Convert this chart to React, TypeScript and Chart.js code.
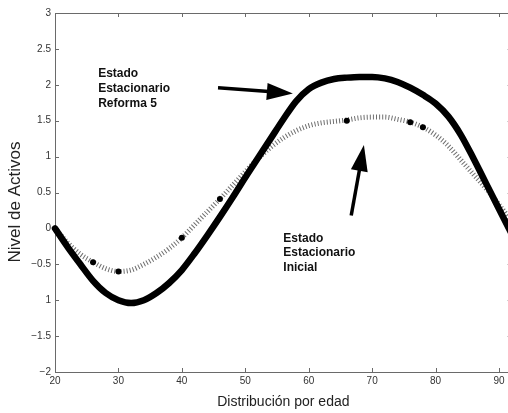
import React, { useEffect, useRef } from "react";
import { Chart, registerables } from "chart.js";

Chart.register(...registerables);

// ---- data ----
const ages = [20, 22, 24, 26, 28, 30, 32, 34, 36, 38, 40, 42, 44, 46, 48, 50, 52, 54, 56, 58, 60, 62, 64, 66, 68, 70, 72, 74, 76, 78, 80, 82, 84, 86, 88, 90, 92];
const reforma5 = [0, -0.26, -0.5, -0.73, -0.9, -1.0, -1.04, -1.0, -0.9, -0.76, -0.58, -0.35, -0.1, 0.16, 0.43, 0.71, 0.98, 1.25, 1.52, 1.77, 1.94, 2.03, 2.08, 2.1, 2.11, 2.11, 2.09, 2.04, 1.96, 1.86, 1.74, 1.56, 1.3, 0.97, 0.62, 0.27, -0.08];
const inicial = [0, -0.2, -0.36, -0.47, -0.56, -0.6, -0.58, -0.5, -0.4, -0.28, -0.13, 0.05, 0.23, 0.41, 0.6, 0.79, 0.97, 1.13, 1.26, 1.36, 1.43, 1.47, 1.49, 1.51, 1.54, 1.55, 1.55, 1.52, 1.48, 1.41, 1.3, 1.15, 0.95, 0.75, 0.55, 0.33, 0.1];
const markerAges = [26, 30, 40, 46, 66, 76, 78];
const markerValues = [-0.47, -0.6, -0.13, 0.41, 1.5, 1.48, 1.41];

const xTicks = [20, 30, 40, 50, 60, 70, 80, 90];
const yTicks = [-2, -1.5, -1, -0.5, 0, 0.5, 1, 1.5, 2, 2.5, 3];
const yTickLabels = ["\u22122", "\u22121.5", "1", "\u22120.5", "0", "0.5", "1", "1.5", "2", "2.5", "3"];
const xTitle = "Distribución por edad";
const yTitle = "Nivel de Activos";

const noteReforma = ["Estado", "Estacionario", "Reforma 5"];
const noteReformaAt = [26.8, 2.16];
const noteInicial = ["Estado", "Estacionario", "Inicial"];
const noteInicialAt = [56, -0.14];
const arrowReforma = [45.7, 1.96, 57.5, 1.88];
const arrowInicial = [66.7, 0.18, 68.7, 1.16];

const FONT = "'Liberation Sans', Arial, Helvetica, sans-serif";

function drawArrow(ctx: CanvasRenderingContext2D, x1: number, y1: number, x2: number, y2: number) {
  const ang = Math.atan2(y2 - y1, x2 - x1);
  const headLen = 26;
  const headW = 8.5;
  const bx = x2 - headLen * Math.cos(ang);
  const by = y2 - headLen * Math.sin(ang);
  ctx.strokeStyle = "#000";
  ctx.fillStyle = "#000";
  ctx.lineWidth = 3.5;
  ctx.lineCap = "butt";
  ctx.beginPath();
  ctx.moveTo(x1, y1);
  ctx.lineTo(bx + 2 * Math.cos(ang), by + 2 * Math.sin(ang));
  ctx.stroke();
  ctx.beginPath();
  ctx.moveTo(x2, y2);
  ctx.lineTo(bx + headW * Math.sin(ang), by - headW * Math.cos(ang));
  ctx.lineTo(bx - headW * Math.sin(ang), by + headW * Math.cos(ang));
  ctx.closePath();
  ctx.fill();
}

const framePlugin = {
  id: "frame",
  beforeDatasetsDraw(chart: any) {
    const { ctx, chartArea, scales } = chart;
    const { left, right, top, bottom } = chartArea;
    ctx.save();
    ctx.strokeStyle = "#6a6a6a";
    ctx.lineWidth = 1;
    ctx.beginPath();
    ctx.moveTo(left + 0.5, top + 0.5);
    ctx.lineTo(right + 0.5, top + 0.5);
    ctx.lineTo(right + 0.5, bottom + 0.5);
    ctx.lineTo(left + 0.5, bottom + 0.5);
    ctx.closePath();
    ctx.stroke();
    const tl = 4;
    ctx.beginPath();
    xTicks.forEach((v) => {
      const px = Math.round(scales.x.getPixelForValue(v)) + 0.5;
      ctx.moveTo(px, bottom);
      ctx.lineTo(px, bottom - tl);
      ctx.moveTo(px, top);
      ctx.lineTo(px, top + tl);
    });
    yTicks.forEach((v) => {
      const py = Math.round(scales.y.getPixelForValue(v)) + 0.5;
      ctx.moveTo(left, py);
      ctx.lineTo(left + tl, py);
      ctx.moveTo(right, py);
      ctx.lineTo(right - tl, py);
    });
    ctx.stroke();
    ctx.restore();
  },
  afterDatasetsDraw(chart: any) {
    const { ctx, chartArea, scales } = chart;
    const sx = (v: number) => scales.x.getPixelForValue(v);
    const sy = (v: number) => scales.y.getPixelForValue(v);
    ctx.save();
    // notes
    ctx.fillStyle = "#111";
    ctx.font = `bold 12px ${FONT}`;
    ctx.textAlign = "left";
    ctx.textBaseline = "middle";
    noteReforma.forEach((t, i) => ctx.fillText(t, sx(noteReformaAt[0]), sy(noteReformaAt[1]) + i * 15));
    noteInicial.forEach((t, i) => ctx.fillText(t, sx(noteInicialAt[0]), sy(noteInicialAt[1]) + i * 14.5));
    // arrows
    drawArrow(ctx, sx(arrowReforma[0]), sy(arrowReforma[1]), sx(arrowReforma[2]), sy(arrowReforma[3]));
    drawArrow(ctx, sx(arrowInicial[0]), sy(arrowInicial[1]), sx(arrowInicial[2]), sy(arrowInicial[3]));
    // axis titles
    ctx.fillStyle = "#222";
    ctx.font = `14px ${FONT}`;
    ctx.textAlign = "center";
    ctx.textBaseline = "middle";
    ctx.fillText(xTitle, (chartArea.left + chartArea.right) / 2, 402);
    ctx.translate(15, 202);
    ctx.rotate(-Math.PI / 2);
    ctx.font = `17px ${FONT}`;
    ctx.fillText(yTitle, 0, 0);
    ctx.restore();
  },
};

export default function App() {
  const ref = useRef<HTMLCanvasElement | null>(null);
  useEffect(() => {
    if (!ref.current) return;
    const chart = new Chart(ref.current, {
      type: "line",
      data: {
        datasets: [
          {
            label: "marcadores",
            data: markerAges.map((a, i) => ({ x: a, y: markerValues[i] })),
            showLine: false,
            pointRadius: 3,
            pointBackgroundColor: "#000",
            pointBorderWidth: 0,
            borderColor: "#000",
          },
          {
            label: "Estado Estacionario Reforma 5",
            data: ages.map((a, i) => ({ x: a, y: reforma5[i] })),
            borderColor: "#000",
            borderWidth: 6.5,
            pointRadius: 0,
            cubicInterpolationMode: "monotone",
            borderCapStyle: "round",
            borderJoinStyle: "round",
            clip: 6,
          },
          {
            label: "Estado Estacionario Inicial",
            data: ages.map((a, i) => ({ x: a, y: inicial[i] })),
            borderColor: "#6e6e6e",
            borderWidth: 5,
            borderDash: [1, 2.1],
            borderCapStyle: "butt",
            pointRadius: 0,
            cubicInterpolationMode: "monotone",
          },
        ],
      },
      options: {
        animation: false,
        responsive: false,
        maintainAspectRatio: false,
        layout: { padding: { top: 13, right: 8.3, bottom: 0, left: 0 } },
        plugins: { legend: { display: false }, tooltip: { enabled: false }, title: { display: false } },
        scales: {
          x: {
            type: "linear",
            min: 20,
            max: 92,
            grid: { display: false, drawTicks: false },
            border: { display: false },
            afterBuildTicks: (s: any) => {
              s.ticks = xTicks.map((v) => ({ value: v }));
            },
            afterFit: (s: any) => {
              s.height = 41;
            },
            ticks: {
              padding: 3,
              color: "#333",
              font: { family: FONT, size: 10 },
              maxRotation: 0,
              callback: (v: any) => String(v),
            },
          },
          y: {
            type: "linear",
            min: -2,
            max: 3,
            grid: { display: false, drawTicks: false },
            border: { display: false },
            afterBuildTicks: (s: any) => {
              s.ticks = yTicks.map((v) => ({ value: v }));
            },
            afterFit: (s: any) => {
              s.width = 55;
            },
            ticks: {
              padding: 4,
              color: "#333",
              font: { family: FONT, size: 10 },
              callback: (_v: any, i: number) => yTickLabels[i],
            },
          },
        },
      },
      plugins: [framePlugin],
    } as any);
    return () => chart.destroy();
  }, []);
  return (
    <div style={{ position: "fixed", left: 0, top: 0, width: 508, height: 413, overflow: "hidden", background: "#fff" }}>
      <canvas ref={ref} width={520} height={413} style={{ width: 520, height: 413, display: "block" }} />
    </div>
  );
}
